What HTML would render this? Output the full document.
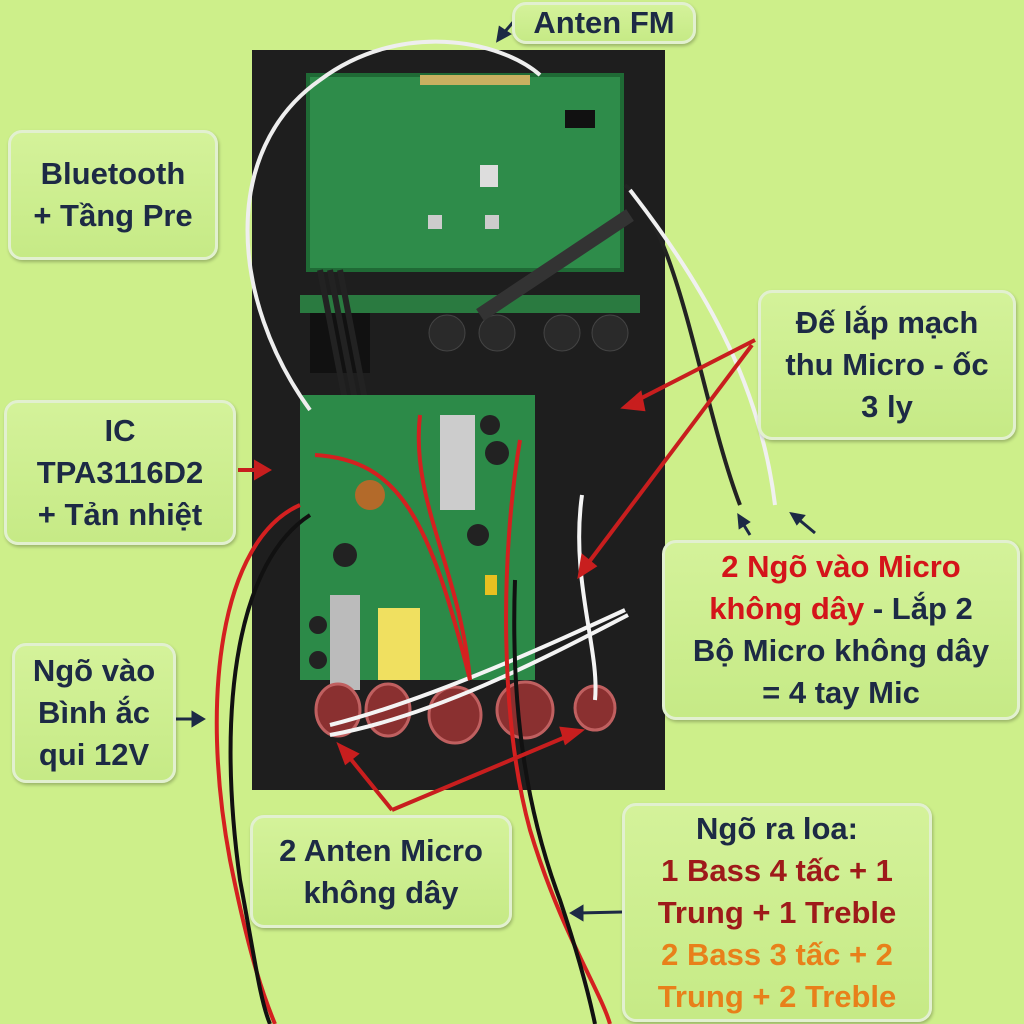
<!DOCTYPE html>
<html><head><meta charset="utf-8"><style>
html,body{margin:0;padding:0}
body{width:1024px;height:1024px;background:#cdef8a;position:relative;overflow:hidden;font-family:"Liberation Sans","Noto Sans CJK SC",sans-serif}
.b{position:absolute;border:3px solid #e2f0d0;border-radius:14px;background:linear-gradient(#d4f29a,#c6ea86);box-shadow:1px 2px 3px rgba(0,0,0,.25);color:#1d2a45;font-weight:bold;font-size:31px;text-align:center;line-height:42px;display:flex;flex-direction:column;justify-content:center;box-sizing:border-box}
.r{color:#d4141a}.dr{color:#9e1a1a}.o{color:#e8801a}
svg{position:absolute;left:0;top:0}
</style></head><body>
<svg width="1024" height="1024">
<!-- board -->
<polygon points="252,50 665,50 665,790 272,790 262,420 252,400" fill="#1c1c1c"/>
<rect x="252" y="50" width="413" height="740" fill="#1e1e1e"/>
<!-- top pcb -->
<rect x="308" y="75" width="314" height="195" fill="#2e8c4a"/>
<rect x="308" y="75" width="314" height="195" fill="none" stroke="#1f6a35" stroke-width="4"/>
<rect x="420" y="75" width="110" height="10" fill="#c8b060"/>
<rect x="565" y="110" width="30" height="18" fill="#111"/>
<rect x="480" y="165" width="18" height="22" fill="#ddd"/>
<rect x="428" y="215" width="14" height="14" fill="#ccc"/>
<rect x="485" y="215" width="14" height="14" fill="#ccc"/>
<!-- strip -->
<rect x="300" y="295" width="340" height="18" fill="#2a7a40"/>
<rect x="310" y="313" width="60" height="60" fill="#111"/>
<g fill="#2a2a2a" stroke="#444"><circle cx="447" cy="333" r="18"/><circle cx="497" cy="333" r="18"/><circle cx="562" cy="333" r="18"/><circle cx="610" cy="333" r="18"/></g>
<!-- flat cable -->
<path d="M320,270 L345,400 M330,270 L355,400 M340,270 L365,400" stroke="#222" stroke-width="6"/>
<path d="M480,315 L630,215" stroke="#333" stroke-width="14"/>
<!-- bottom pcb -->
<rect x="300" y="395" width="235" height="285" fill="#2c8a48"/>
<rect x="440" y="415" width="35" height="95" fill="#ccc"/>
<rect x="330" y="595" width="30" height="95" fill="#bbb"/>
<rect x="378" y="608" width="42" height="72" fill="#f0e060"/>
<circle cx="370" cy="495" r="15" fill="#b36a2a"/>
<g fill="#222"><circle cx="345" cy="555" r="12"/><circle cx="490" cy="425" r="10"/><circle cx="497" cy="453" r="12"/><circle cx="318" cy="625" r="9"/><circle cx="318" cy="660" r="9"/><circle cx="478" cy="535" r="11"/></g>
<rect x="485" y="575" width="12" height="20" fill="#e8c020"/>
<!-- round bottom -->
<g fill="#8a3030" stroke="#c06060" stroke-width="3"><ellipse cx="338" cy="710" rx="22" ry="26"/><ellipse cx="388" cy="710" rx="22" ry="26"/><ellipse cx="455" cy="715" rx="26" ry="28"/><ellipse cx="525" cy="710" rx="28" ry="28"/><ellipse cx="595" cy="708" rx="20" ry="22"/></g>
<!-- wires -->
<g fill="none" stroke-width="4">
<path d="M310,410 C230,300 220,150 320,80 C400,20 500,40 540,75" stroke="#eee"/>
<path d="M330,725 C430,700 560,640 625,610" stroke="#f4f4f4"/>
<path d="M330,735 C440,715 560,650 628,615" stroke="#f4f4f4"/>
<path d="M582,495 C570,580 600,650 595,700" stroke="#f4f4f4"/>
<path d="M625,185 C680,230 700,400 740,505" stroke="#222"/>
<path d="M630,190 C700,280 760,380 775,505" stroke="#f0f0f0"/>
<path d="M300,505 C220,540 200,700 230,860 C250,960 265,1000 275,1024" stroke="#d42020"/>
<path d="M310,515 C240,560 215,700 240,880 C255,960 260,1000 270,1024" stroke="#111"/>
<path d="M315,455 C400,460 430,520 470,680" stroke="#d42020"/>
<path d="M520,440 C500,560 500,720 530,830 C560,930 600,990 610,1024" stroke="#d42020"/>
<path d="M515,580 C510,720 530,820 560,900 C580,960 590,1000 595,1024" stroke="#111"/>
<path d="M420,415 C410,500 460,570 470,680" stroke="#d42020"/>
</g>
<!-- arrows -->
<g stroke="#c81e1e" stroke-width="4" fill="#c81e1e">
<path d="M755,340 L628,405" fill="none"/><polygon points="625,407 640,394 643,409"/>
<path d="M752,345 L583,570" fill="none"/><polygon points="580,575 583,557 594,566"/>
<path d="M238,470 L262,470" fill="none"/><polygon points="268,470 256,463 256,477"/>
<path d="M392,810 L345,752" fill="none"/><polygon points="340,746 356,754 346,762"/>
<path d="M392,810 L575,733" fill="none"/><polygon points="580,731 566,742 562,729"/>
</g>
<g stroke="#1d2a45" stroke-width="3" fill="#1d2a45">
<path d="M515,20 L502,35" fill="none"/><polygon points="498,40 500,28 509,34"/>
<path d="M176,719 L197,719" fill="none"/><polygon points="203,719 193,713 193,725"/>
<path d="M622,912 L578,913" fill="none"/><polygon points="572,913 582,907 582,919"/>
<path d="M750,535 L742,522" fill="none"/><polygon points="739,516 748,522 740,527"/>
<path d="M815,533 L797,518" fill="none"/><polygon points="792,514 803,516 797,523"/>
</g>
</svg>
<div class="b" style="left:512px;top:2px;width:184px;height:42px;line-height:36px">Anten FM</div>
<div class="b" style="left:8px;top:130px;width:210px;height:130px">Bluetooth<br>+ Tầng Pre</div>
<div class="b" style="left:4px;top:400px;width:232px;height:145px">IC<br>TPA3116D2<br>+ Tản nhiệt</div>
<div class="b" style="left:12px;top:643px;width:164px;height:140px">Ngõ vào<br>Bình ắc<br>qui 12V</div>
<div class="b" style="left:758px;top:290px;width:258px;height:150px">Đế lắp mạch<br>thu Micro - ốc<br>3 ly</div>
<div class="b" style="left:662px;top:540px;width:358px;height:180px"><span><span class="r">2 Ngõ vào Micro</span></span><span><span class="r">không dây</span> - Lắp 2</span><span>Bộ Micro không dây</span><span>= 4 tay Mic</span></div>
<div class="b" style="left:250px;top:815px;width:262px;height:113px">2 Anten Micro<br>không dây</div>
<div class="b" style="left:622px;top:803px;width:310px;height:219px"><span>Ngõ ra loa:</span><span class="dr">1 Bass 4 tấc + 1</span><span class="dr">Trung + 1 Treble</span><span class="o">2 Bass 3 tấc + 2</span><span class="o">Trung + 2 Treble</span></div>
</body></html>
